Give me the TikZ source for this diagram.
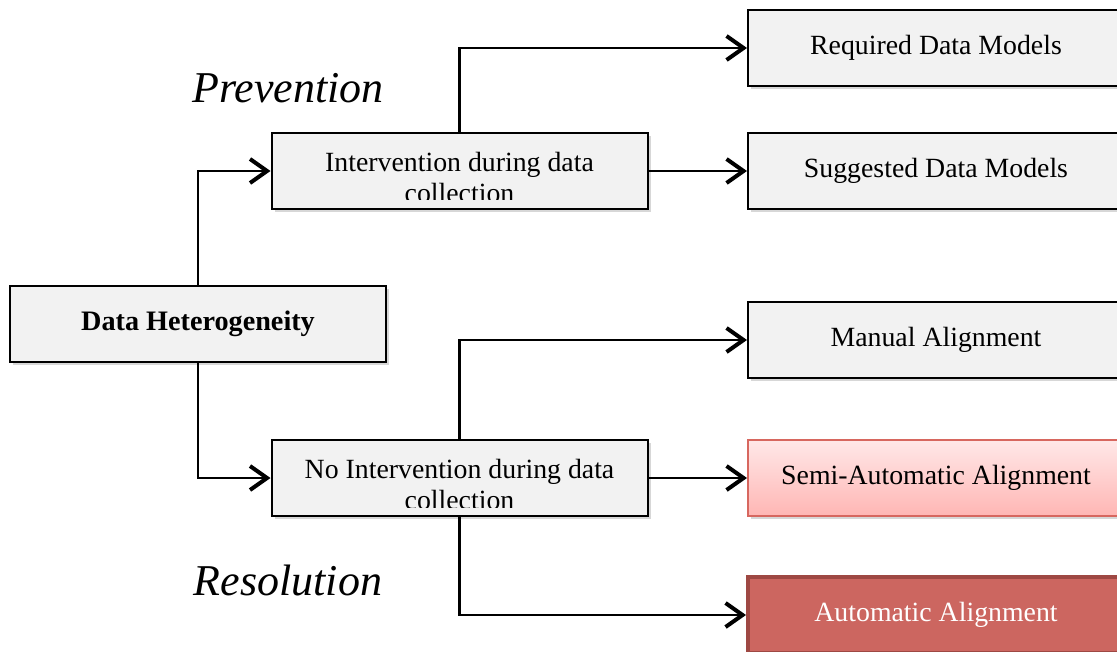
\documentclass[tikz,border=0pt]{standalone}
\usepackage{fontspec}
\setmainfont{Liberation Serif}
\usetikzlibrary{arrows.meta, positioning, shadows}
\definecolor{Ink}{HTML}{000000}
\definecolor{BoxFill}{HTML}{F2F2F2}
\definecolor{SemiTop}{HTML}{FFE8E8}
\definecolor{SemiBottom}{HTML}{FFB6B4}
\definecolor{SemiLine}{HTML}{D7675F}
\definecolor{AutoFill}{HTML}{CC6660}
\definecolor{AutoLine}{HTML}{9E4843}

\begin{document}
\begin{tikzpicture}[
  x=0.5pt, y=-0.5pt,
  font=\fontsize{13.9}{15.5}\selectfont,
  stepbox/.style={draw=Ink, line width=1pt, fill=BoxFill, align=center, minimum width=188pt, minimum height=38pt, drop shadow={shadow xshift=1.5pt, shadow yshift=-1.5pt, opacity=0.35, fill=black!45}},
  semibox/.style={stepbox, draw=SemiLine, top color=SemiTop, bottom color=SemiBottom},
  autobox/.style={stepbox, draw=AutoLine, line width=2pt, fill=AutoFill, text=white},
  phase/.style={font=\fontsize{22}{26}\selectfont\itshape},
  link/.style={-{Straight Barb[length=8.5pt, width=12pt, line width=2pt]}, line width=1.25pt, draw=Ink}
]
\clip (0,0) rectangle (1117,652);

\node[stepbox, font=\fontsize{14.1}{16}\selectfont\bfseries] (het) at (198,324) {Data Heterogeneity};
\node[stepbox] (inter) at (459.5,171) {};
\node[stepbox] (nointer) at (459.5,478) {};

\begin{scope}
  \clip (271,133) rectangle (648,200);
  \node[align=center] (intertxt) at (459.5,177) {Intervention during data\\collection};
\end{scope}
\begin{scope}
  \clip (271,440) rectangle (648,507);
  \node[align=center] (nointertxt) at (459.5,484) {No Intervention during data\\collection};
\end{scope}

\node[stepbox] (req) at (936,48) {Required Data Models};
\node[stepbox] (sugg) at (936,171) {Suggested Data Models};
\node[stepbox] (man) at (936,340) {Manual Alignment};
\node[semibox] (semi) at (936,478) {Semi-Automatic Alignment};
\node[autobox] (auto) at (936,615) {Automatic Alignment};

\node[phase] (prev) at (288,88) {Prevention};
\node[phase] (reso) at (288,580) {Resolution};

\draw[link] (het.north) |- (inter.west);
\draw[link] (het.south) |- (nointer.west);
\draw[link] (inter.north) |- (req.west);
\draw[link] (inter) -- (sugg);
\draw[link] (nointer.north) |- (man.west);
\draw[link] (nointer) -- (semi);
\draw[link] (nointer.south) |- (auto.west);
\end{tikzpicture}
\end{document}
